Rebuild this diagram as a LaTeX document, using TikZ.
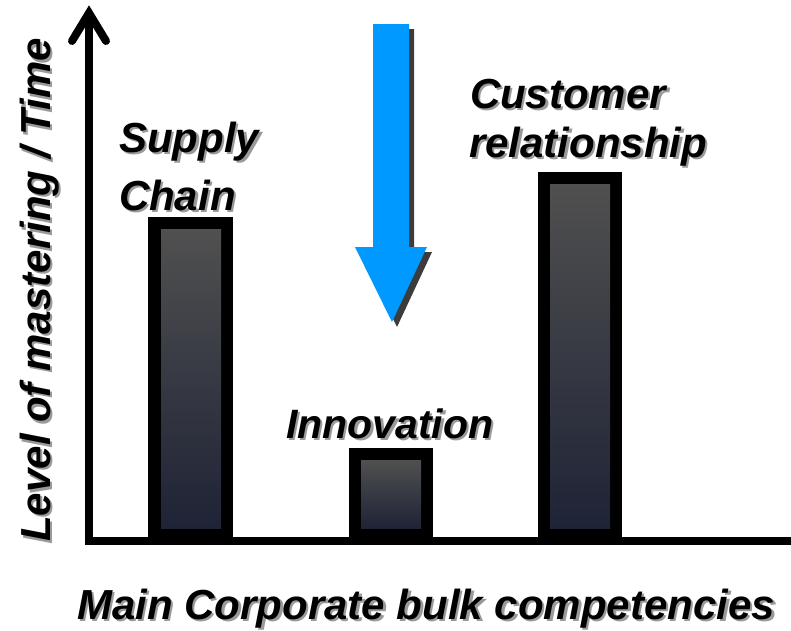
\documentclass[tikz,border=0pt]{standalone}
\usepackage{fontspec}
\setmainfont{Liberation Sans}
\definecolor{barTop}{HTML}{505050}
\definecolor{barBottom}{HTML}{1E2336}
\definecolor{arrowBlue}{HTML}{0099FF}
\definecolor{arrowShadow}{HTML}{3C3C3C}
\definecolor{txtShadow}{HTML}{9A9A9A}
% text with a soft drop shadow, inside one box
\newcommand\shtxt[1]{\makebox[0pt][l]{\hspace{2.5pt}\raisebox{-2.5pt}{\color{txtShadow}#1}}#1}
\newcommand\shtxtrot[1]{\makebox[0pt][l]{\hspace{-2.5pt}\raisebox{-2.5pt}{\color{txtShadow}#1}}#1}
\begin{document}
\begin{tikzpicture}[x=1pt,y=-1pt,
  lbl/.style={inner sep=0pt,outer sep=0pt,font=\fontsize{42}{42}\selectfont\bfseries\itshape,text=black,anchor=base west},
  axisline/.style={line width=8pt,black},
  barframe/.style={fill=black,draw=none},
  barfill/.style={draw=none,top color=barTop,bottom color=barBottom}]
\useasboundingbox (0,0) rectangle (791,630);
\fill[white] (0,0) rectangle (791,630);

% axes
\coordinate (ytip) at (89,13);
\coordinate (origin) at (89,541);
\coordinate (xend) at (791,541);
\coordinate (barbL) at (72,41);
\coordinate (barbR) at (106,41);
\draw[axisline,line join=miter] (ytip) -- (origin) -- (xend);
\draw[axisline,line cap=round,line join=miter] (barbL) -- (ytip) -- (barbR);

% bars
\fill[barframe] (148,217) rectangle (233,541);
\fill[barfill] (161,229) rectangle (221,528);
\fill[barframe] (349,448) rectangle (433,541);
\fill[barfill] (361,460) rectangle (421,528);
\fill[barframe] (538,172) rectangle (622,541);
\fill[barfill] (550,184) rectangle (610,528);

% blue arrow with shadow
\fill[arrowShadow,shift={(5,5)}] (373,24) -- (409,24) -- (409,247) -- (427,247) -- (392,322) -- (355,247) -- (373,247) -- cycle;
\fill[arrowBlue] (373,24) -- (409,24) -- (409,247) -- (427,247) -- (392,322) -- (355,247) -- (373,247) -- cycle;

% labels
\node[lbl] (sup) at (119,152) {\shtxt{Supply}};
\node[lbl] (ch) at (119,210) {\shtxt{Chain}};
\node[lbl] (cu) at (470,108) {\shtxt{Customer}};
\node[lbl] (re) at (469,157) {\shtxt{relationship}};
\node[lbl,font=\fontsize{41}{41}\selectfont\bfseries\itshape] (in) at (286,438) {\shtxt{Innovation}};
\node[lbl,anchor=base,rotate=90] (yl) at (50,290) {\shtxtrot{Level of mastering / Time}};
\node[lbl,anchor=base] (xl) at (426,619) {\shtxt{Main Corporate bulk competencies}};
\end{tikzpicture}
\end{document}
